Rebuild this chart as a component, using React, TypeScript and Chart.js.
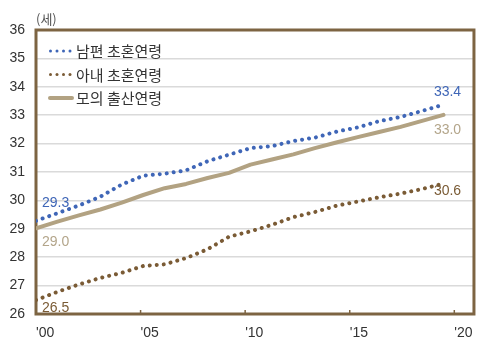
import React, { useEffect, useRef } from 'react';
import { Chart, registerables } from 'chart.js';

Chart.register(...registerables);

// ---- data ----
const years = [2000, 2001, 2002, 2003, 2004, 2005, 2006, 2007, 2008, 2009, 2010, 2011, 2012, 2013, 2014, 2015, 2016, 2017, 2018, 2019];
const husbandAge = [29.28, 29.55, 29.82, 30.13, 30.56, 30.87, 30.94, 31.06, 31.38, 31.61, 31.84, 31.91, 32.09, 32.21, 32.42, 32.57, 32.79, 32.94, 33.15, 33.37];
const wifeAge = [26.49, 26.78, 27.04, 27.27, 27.45, 27.69, 27.75, 27.97, 28.28, 28.72, 28.91, 29.14, 29.41, 29.59, 29.81, 29.96, 30.11, 30.24, 30.40, 30.59];
const motherAge = [29.02, 29.25, 29.47, 29.68, 29.92, 30.19, 30.43, 30.58, 30.79, 30.97, 31.26, 31.44, 31.62, 31.84, 32.04, 32.23, 32.41, 32.59, 32.80, 33.01];
const seriesNames = ['남편 초혼연령', '아내 초혼연령', '모의 출산연령'];
const startLabels = ['29.3', '26.5', '29.0'];
const endLabels = ['33.4', '30.6', '33.0'];
const xTickYears = [2000, 2005, 2010, 2015, 2020];
const yMin = 26;
const yMax = 36;
const unitLabel = '(세)';

// ---- styles ----
const BLUE = '#3f66b7';
const BROWN = '#7a5b35';
const TAN = '#b2a282';
const TAN_LABEL = '#b3a58a';
const BORDER = '#7d6442';
const GRID = '#dadada';
const TEXT = '#333333';
const NUM_FONT = "'Liberation Sans', Arial, sans-serif";
const KR_FONT = "'Noto Sans CJK KR', 'Noto Sans', sans-serif";

const colors = [BLUE, BROWN, TAN];
const labelColors = [BLUE, BROWN, TAN_LABEL];
const dotted = [true, true, false];
// label offsets (pixels) relative to first / last point
const startOffsets = [[6, -18], [6, 8], [6, 14]];
const endOffsets = [[4, -13], [4, 7], [4, 15]];

const decor = {
  id: 'decor',
  beforeDatasetsDraw(chart: any) {
    const { ctx, chartArea: a } = chart;
    ctx.save();
    ctx.strokeStyle = BORDER;
    ctx.lineWidth = 3;
    ctx.strokeRect(a.left, a.top, a.right - a.left, a.bottom - a.top);
    const xs = chart.scales.x;
    ctx.lineWidth = 1.5;
    xTickYears.forEach((v) => {
      const px = xs.getPixelForValue(v);
      ctx.beginPath();
      ctx.moveTo(px, a.bottom);
      ctx.lineTo(px, a.bottom - 4);
      ctx.stroke();
    });
    ctx.restore();
  },
  afterDatasetsDraw(chart: any) {
    const { ctx, chartArea: a } = chart;
    ctx.save();
    // value labels
    ctx.font = `14px ${NUM_FONT}`;
    ctx.textBaseline = 'middle';
    chart.data.datasets.forEach((_: any, i: number) => {
      const pts = chart.getDatasetMeta(i).data;
      const p0 = pts[0];
      const pn = pts[pts.length - 1];
      ctx.fillStyle = labelColors[i];
      ctx.textAlign = 'left';
      ctx.fillText(startLabels[i], p0.x + startOffsets[i][0], p0.y + startOffsets[i][1]);
      ctx.textAlign = 'center';
      ctx.fillText(endLabels[i], pn.x + endOffsets[i][0], pn.y + endOffsets[i][1]);
    });
    // legend
    ctx.font = `15px ${KR_FONT}`;
    ctx.textAlign = 'left';
    ctx.textBaseline = 'middle';
    seriesNames.forEach((name, i) => {
      const y = a.top + 21 + i * 23.5;
      const x0 = a.left + 13;
      if (dotted[i]) {
        ctx.fillStyle = colors[i];
        for (let k = 0; k < 4; k++) {
          ctx.beginPath();
          ctx.arc(x0 + 1.5 + k * 6.5, y, 1.5, 0, Math.PI * 2);
          ctx.fill();
        }
      } else {
        ctx.strokeStyle = colors[i];
        ctx.lineWidth = 4;
        ctx.lineCap = 'round';
        ctx.beginPath();
        ctx.moveTo(x0 + 1, y);
        ctx.lineTo(x0 + 23, y);
        ctx.stroke();
      }
      ctx.fillStyle = TEXT;
      ctx.fillText(name, x0 + 27, y + 0.5);
    });
    // unit
    ctx.font = `13px ${KR_FONT}`;
    ctx.fillStyle = '#555555';
    ctx.textAlign = 'left';
    ctx.fillText(unitLabel, a.left, a.top - 11);
    ctx.restore();
  },
};

export default function App() {
  const ref = useRef<HTMLCanvasElement | null>(null);

  useEffect(() => {
    document.body.style.margin = '0';
    const series = [husbandAge, wifeAge, motherAge];
    const chart = new Chart(ref.current as HTMLCanvasElement, {
      type: 'line',
      data: {
        datasets: series.map((vals, i) => ({
          label: seriesNames[i],
          data: years.map((yr, j) => ({ x: yr, y: vals[j] })),
          xAxisID: 'xd',
          yAxisID: 'y',
          borderColor: colors[i],
          backgroundColor: colors[i],
          borderWidth: 4,
          borderDash: dotted[i] ? [0.01, 7] : [],
          borderCapStyle: 'round',
          borderJoinStyle: 'round',
          pointRadius: 0,
          tension: 0,
          fill: false,
        })),
      },
      options: {
        responsive: false,
        animation: false,
        layout: { padding: { top: 30, right: 3, left: 0, bottom: 0 } },
        plugins: { legend: { display: false }, tooltip: { enabled: false } },
        scales: {
          xd: {
            type: 'linear',
            display: false,
            min: 2000,
            max: 2020.42,
          },
          x: {
            type: 'linear',
            position: 'bottom',
            min: 2000,
            max: 2020.94,
            grid: { display: false, drawTicks: false },
            border: { display: false },
            afterBuildTicks: (s: any) => {
              s.ticks = xTickYears.map((v) => ({ value: v }));
            },
            afterFit: (s: any) => {
              s.height = 24;
            },
            ticks: {
              align: 'start',
              autoSkip: false,
              maxRotation: 0,
              padding: 11,
              color: TEXT,
              font: { size: 14, family: NUM_FONT },
              callback: (v: any) => "'" + String(v).slice(2),
            },
          },
          y: {
            type: 'linear',
            min: yMin,
            max: yMax,
            grid: { color: GRID, lineWidth: 1.5, drawTicks: false },
            border: { display: false },
            afterFit: (s: any) => {
              s.width = 36;
            },
            ticks: {
              stepSize: 1,
              padding: 11,
              color: TEXT,
              font: { size: 14, family: NUM_FONT },
            },
          },
        },
      } as any,
      plugins: [decor],
    });
    return () => chart.destroy();
  }, []);

  return (
    <div style={{ width: 484, height: 338 }}>
      <canvas ref={ref} width={484} height={338} style={{ display: 'block' }} />
    </div>
  );
}
